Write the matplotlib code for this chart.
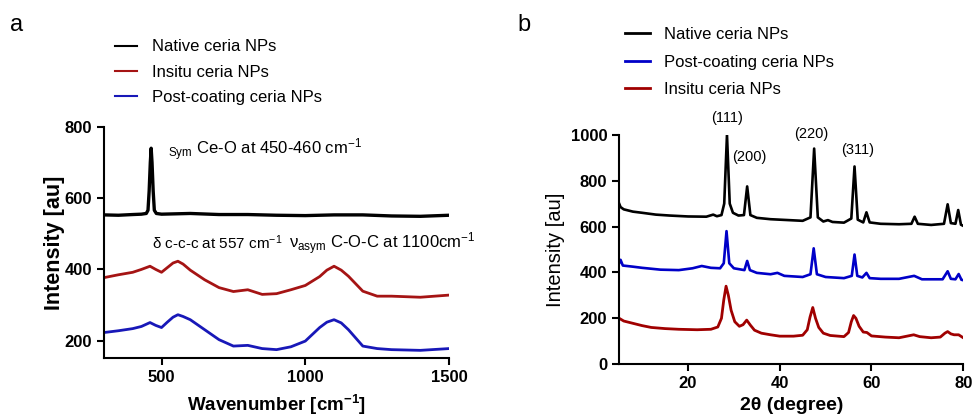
import matplotlib
matplotlib.use('Agg')
import matplotlib.pyplot as plt

plt.rcParams['font.family'] = ['Liberation Sans', 'DejaVu Sans']
plt.rcParams['mathtext.fontset'] = 'custom'
plt.rcParams['mathtext.rm'] = 'Liberation Sans'
plt.rcParams['mathtext.it'] = 'Liberation Sans:italic'
plt.rcParams['mathtext.bf'] = 'Liberation Sans:bold'

# ---- panel a: Raman spectra ----
raman_native_x = [300, 350, 400, 430, 447, 453, 457, 461, 464, 467, 471, 475, 482, 500, 550, 600, 700,
                  800, 900, 1000, 1100, 1200, 1300, 1400, 1500]
raman_native_y = [553, 552, 554, 555, 557, 566, 620, 700, 740, 700, 620, 566, 557, 555, 556, 557, 554,
                  554, 552, 551, 553, 553, 550, 549, 552]

raman_x = [300, 350, 400, 430, 460, 480, 500, 520, 540, 557, 575, 600, 650, 700, 750, 800, 850, 900,
           950, 1000, 1050, 1075, 1100, 1125, 1150, 1200, 1250, 1300, 1400, 1500]
raman_insitu_y = [377, 385, 392, 400, 409, 400, 392, 405, 418, 423, 415, 398, 371, 349, 338, 343, 330, 332,
                  343, 355, 380, 398, 409, 398, 381, 339, 325, 325, 322, 328]
raman_post_y = [223, 228, 234, 240, 251, 243, 237, 252, 266, 273, 268, 259, 231, 203, 185, 187, 178, 175,
                183, 199, 237, 252, 259, 250, 231, 185, 178, 175, 173, 178]

raman_labels = ['Native ceria NPs', 'Insitu ceria NPs', 'Post-coating ceria NPs']

# ---- panel b: XRD patterns ----
xrd_native_x = [5, 5.3, 6, 8, 10, 13, 16, 20, 24, 25.5, 26.3, 27.3, 27.9, 28.5, 29.1, 29.8, 31, 32.2,
                32.9, 33.6, 35, 38, 42, 45, 46.7, 47.5, 48.3, 49.5, 50.5, 51.5, 54, 55.6, 56.3, 57,
                58.2, 58.9, 59.6, 62, 66, 68.7, 69.4, 70.1, 73, 75.8, 76.6, 77.3, 78.3, 78.9, 79.5, 80]
xrd_native_y = [700, 685, 675, 665, 660, 652, 648, 644, 643, 652, 645, 650, 700, 1000, 700, 660, 648, 650,
                775, 650, 638, 632, 628, 625, 640, 940, 640, 622, 628, 620, 617, 635, 862, 630,
                618, 662, 618, 612, 610, 612, 643, 612, 607, 612, 697, 615, 612, 672, 608, 603]

xrd_post_x = [5, 5.3, 5.8, 8, 10, 14, 18, 21, 23, 25, 27, 27.8, 28.4, 29, 30, 32.3, 32.9, 33.5, 35, 38,
              39.5, 41, 45, 46.7, 47.4, 48.1, 50, 54, 55.7, 56.3, 56.9, 58, 58.9, 59.6, 62, 66, 69.3,
              71, 75.5, 76.6, 77.3, 78.3, 79, 79.6, 80]
xrd_post_y = [440, 455, 430, 425, 420, 412, 410, 418, 428, 420, 418, 440, 580, 440, 418, 410, 450, 410, 398, 392,
              398, 385, 380, 392, 505, 392, 380, 375, 385, 478, 385, 378, 398, 375, 372, 372, 385,
              370, 370, 405, 372, 370, 393, 368, 366]

xrd_insitu_x = [5, 6, 8, 10, 12, 15, 18, 22, 25, 26.5, 27.3, 27.8, 28.3, 28.8, 29.4, 30.2, 31.2, 32, 32.8,
                33.6, 34.5, 36, 38, 40, 43, 45, 46, 46.6, 47.2, 47.8, 48.5, 49.5, 51, 54, 55, 55.6,
                56.1, 56.6, 57.3, 58.2, 59, 60, 63, 66, 69.2, 70.5, 73, 75, 76, 76.6, 77.3, 78, 79, 80]
xrd_insitu_y = [200, 188, 178, 168, 160, 155, 152, 150, 152, 162, 200, 280, 340, 300, 235, 185, 165, 172, 192,
                170, 148, 135, 128, 122, 122, 126, 150, 205, 247, 200, 160, 135, 125, 120, 138, 185,
                212, 200, 165, 140, 138, 123, 118, 115, 128, 120, 115, 118, 135, 142, 132, 128, 128, 115]

xrd_labels = ['Native ceria NPs', 'Post-coating ceria NPs', 'Insitu ceria NPs']
hkl_labels = ['(111)', '(200)', '(220)', '(311)']
hkl_pos = [(28.5, 1074), (33.3, 904), (46.9, 1004), (56.9, 934)]


def style_axes(ax):
    for s in ['top', 'right']:
        ax.spines[s].set_visible(False)
    for s in ['left', 'bottom']:
        ax.spines[s].set_linewidth(1.5)
    ax.tick_params(direction='out', length=5, width=1.5, labelsize=12)
    for lab in ax.get_xticklabels() + ax.get_yticklabels():
        lab.set_fontweight('bold')


fig = plt.figure(figsize=(9.72, 4.2), dpi=100)

# panel a
ax1 = fig.add_axes([0.107, 0.148, 0.355, 0.55])
ax1.plot(raman_native_x, raman_native_y, color='black', lw=2.4, label=raman_labels[0])
ax1.plot(raman_x, raman_insitu_y, color='#a51414', lw=2.0, label=raman_labels[1])
ax1.plot(raman_x, raman_post_y, color='#1818b8', lw=2.0, label=raman_labels[2])
ax1.set_xlim(300, 1500)
ax1.set_ylim(152, 800)
ax1.set_xticks([500, 1000, 1500])
ax1.set_yticks([200, 400, 600, 800])
style_axes(ax1)
ax1.set_xlabel(r'Wavenumber [cm$^{\mathbf{-1}}$]', fontsize=13.5, fontweight='bold', labelpad=6)
ax1.set_ylabel('Intensity [au]', fontsize=15.5, fontweight='bold', labelpad=0)
ax1.text(523, 722, r'$_{\mathrm{Sym}}$ Ce-O at 450-460 cm$^{-1}$', fontsize=12, va='baseline')
ax1.text(467, 458, r'δ c-c-c at 557 cm$^{-1}$', fontsize=11, va='baseline')
ax1.text(945, 458, r'ν$_{\mathrm{asym}}$ C-O-C at 1100cm$^{-1}$', fontsize=12, va='baseline', clip_on=False)
leg1 = ax1.legend(loc='upper left', bbox_to_anchor=(0.118, 0.906), bbox_transform=fig.transFigure,
                  frameon=False, fontsize=12, handlelength=1.32, handletextpad=0.9,
                  labelspacing=0.61, borderpad=0, borderaxespad=0)
for h in leg1.get_lines():
    h.set_linewidth(1.5)
fig.text(0.010, 0.94, 'a', fontsize=17, va='center')

# panel b
ax2 = fig.add_axes([0.637, 0.133, 0.354, 0.546])
ax2.plot(xrd_native_x, xrd_native_y, color='black', lw=1.9, label=xrd_labels[0])
ax2.plot(xrd_post_x, xrd_post_y, color='#0000c8', lw=1.9, label=xrd_labels[1])
ax2.plot(xrd_insitu_x, xrd_insitu_y, color='#a00000', lw=2.0, label=xrd_labels[2])
ax2.set_xlim(5, 80)
ax2.set_ylim(0, 1000)
ax2.set_xticks([20, 40, 60, 80])
ax2.set_yticks([0, 200, 400, 600, 800, 1000])
style_axes(ax2)
ax2.set_xlabel('2θ (degree)', fontsize=14, fontweight='bold')
ax2.set_ylabel('Intensity [au]', fontsize=14.5)
for lab, (px, py) in zip(hkl_labels, hkl_pos):
    ax2.text(px, py, lab, fontsize=10.5, ha='center', va='center', clip_on=False)
leg2 = ax2.legend(loc='upper left', bbox_to_anchor=(0.643, 0.936), bbox_transform=fig.transFigure,
                  frameon=False, fontsize=12, handlelength=1.5, handletextpad=0.84,
                  labelspacing=0.76, borderpad=0, borderaxespad=0)
for h in leg2.get_lines():
    h.set_linewidth(2)
fig.text(0.532, 0.94, 'b', fontsize=17, va='center')

fig.savefig('out.png', dpi=100)
